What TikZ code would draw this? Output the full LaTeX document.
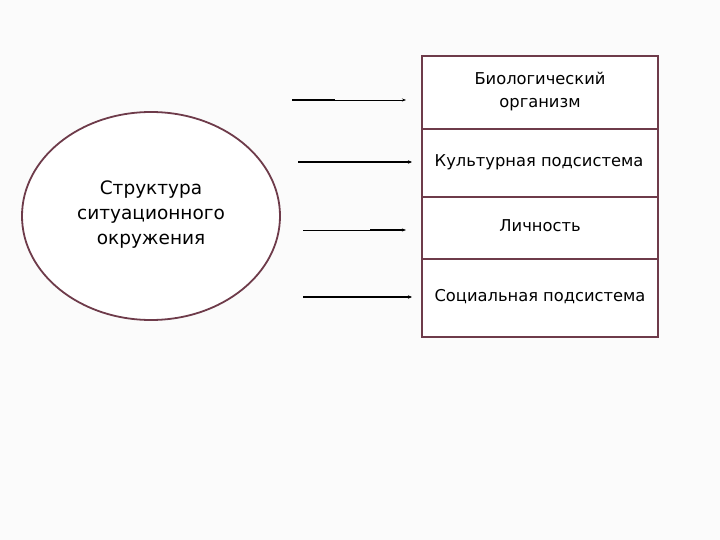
\documentclass[tikz,border=0pt]{standalone}
\usepackage{fontspec}
\setmainfont{DejaVu Sans}
\usetikzlibrary{arrows.meta,shapes.geometric,calc}
\definecolor{frame}{HTML}{6E3B4A}
\definecolor{bg}{HTML}{FBFBFB}
\begin{document}
\begin{tikzpicture}[x=1pt,y=-1pt,
  txt/.style={font=\fontsize{16.3}{23}\selectfont, align=center, inner sep=0pt},
  bigtxt/.style={font=\fontsize{18.5}{25}\selectfont, align=center, inner sep=0pt},
  thin arrow/.style={line width=0.8pt, -{Stealth[length=4pt,width=3pt]}},
  thick seg/.style={line width=1.8pt},
  thick arrow/.style={line width=1.8pt, -{Stealth[length=4pt,width=3.5pt]}}]
\fill[bg] (0,0) rectangle (720,540);
\useasboundingbox (0,0) rectangle (720,540);
% ellipse
\node[draw=frame, line width=1.8pt, fill=white, ellipse, minimum width=258pt, minimum height=208pt, inner sep=0pt] (env) at (151,216) {};
\node[bigtxt] (envt) at (151,215) {Структура\\ситуационного\\окружения};
% box
\draw[frame, line width=1.8pt, fill=white] (422,56) rectangle (658,337);
\draw[frame, line width=1.8pt] (422,129) -- (658,129);
\draw[frame, line width=1.8pt] (422,197) -- (658,197);
\draw[frame, line width=1.8pt] (422,259) -- (658,259);
\node[txt] (b1) at (540,92) {Биологический\\организм};
\node[txt] (b2) at (539,162) {Культурная подсистема};
\node[txt] (b3) at (540,226) {Личность};
\node[txt] (b4) at (540,297) {Социальная подсистема};
% arrows
\coordinate (a1s) at (292,100); \coordinate (a1m) at (335,100); \coordinate (a1e) at (406,100);
\coordinate (a2s) at (298,162); \coordinate (a2e) at (412,162);
\coordinate (a3s) at (303,230); \coordinate (a3m) at (370,230); \coordinate (a3e) at (406,230);
\coordinate (a4s) at (303,297); \coordinate (a4e) at (412,297);
\draw[thin arrow] (a1s) -- (a1e);
\draw[thick seg] (a1s) -- (a1m);
\draw[thick arrow] (a2s) -- (a2e);
\draw[thin arrow] (a3s) -- (a3e);
\draw[thick seg] (a3m) -- ($(a3e)+(-3,0)$);
\draw[thick arrow] (a4s) -- (a4e);
\end{tikzpicture}
\end{document}
